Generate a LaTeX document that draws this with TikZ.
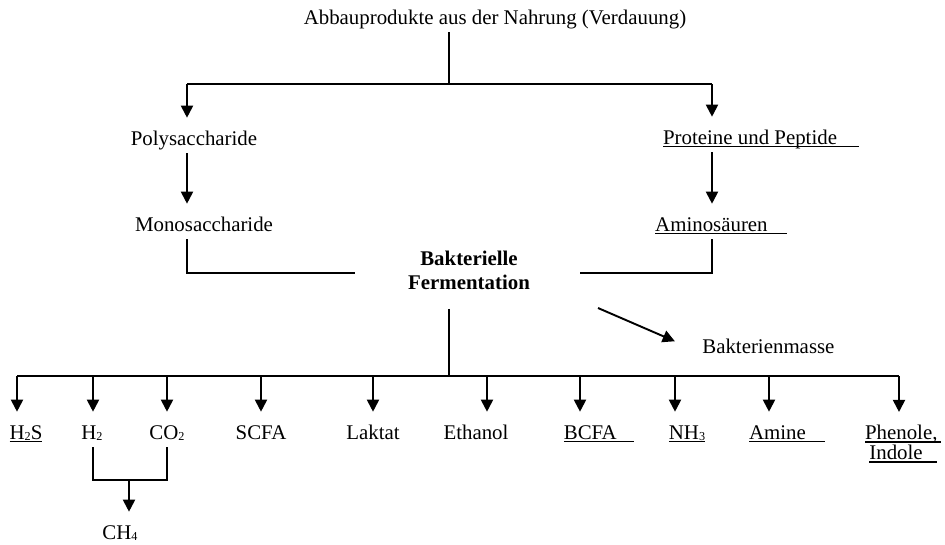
\documentclass[tikz,border=0pt]{standalone}
\usepackage{fontspec}
\setmainfont{Liberation Serif}
\usetikzlibrary{arrows.meta, positioning}

% underlined text with a little trailing space
\newcommand{\ulbox}[2]{\setbox0=\hbox{#1\hspace{#2}}\rlap{\rule[-1.7pt]{\wd0}{0.75pt}}\box0}
\newcommand{\lowidx}[1]{\raisebox{-0.8pt}{\fontsize{7}{8}\selectfont #1}}

\begin{document}
\begin{tikzpicture}[
	x=0.575pt, y=-0.575pt,
	font=\fontsize{12}{13.8}\selectfont,
	lbl/.style={anchor=base, inner sep=0pt, text height=8pt, text depth=2.4pt},
	multi/.style={align=center, inner sep=0pt},
	conn/.style={line width=1.1pt},
	arr/.style={line width=1.1pt, -{Triangle[width=7pt,length=7pt]}, shorten >=7.5pt}
	]
	\useasboundingbox (0,0) rectangle (945,544);
	
	% -------------------------------
	% NAHRUNG
	% -------------------------------
	\node[lbl] (title) at (495,24) {Abbauprodukte aus der Nahrung (Verdauung)};
	\node[lbl] (poly)  at (194,145) {Polysaccharide};
	\node[lbl] (mono)  at (204,231) {Monosaccharide};
	\node[lbl] (prot)  at (761,144) {\ulbox{Proteine und Peptide}{12.6pt}};
	\node[lbl] (amino) at (721,231) {\ulbox{Aminosäuren}{11pt}};
	
	% -------------------------------
	% FERMENTATION
	% -------------------------------
	\node[multi, font=\fontsize{12}{13.8}\selectfont\bfseries] (bakt) at (469,270) {Bakterielle\\Fermentation};
	\node[lbl, anchor=base west] (masse) at (702,353) {Bakterienmasse};
	
	% -------------------------------
	% PRODUKTE
	% -------------------------------
	\node[lbl] (h2s)     at (26,439)  {\ulbox{H\lowidx{2}S}{0pt}};
	\node[lbl] (h2)      at (92,439)  {H\lowidx{2}};
	\node[lbl] (co2)     at (167,439) {CO\lowidx{2}};
	\node[lbl] (scfa)    at (261,439) {SCFA};
	\node[lbl] (laktat)  at (373,439) {Laktat};
	\node[lbl] (ethanol) at (476,439) {Ethanol};
	\node[lbl] (bcfa)    at (599,439) {\ulbox{BCFA}{10pt}};
	\node[lbl] (nh3)     at (687,439) {\ulbox{NH\lowidx{3}}{0pt}};
	\node[lbl] (amine)   at (787,439) {\ulbox{Amine}{11pt}};
	\node[multi, anchor=north, font=\fontsize{12}{11.5}\selectfont] (phen) at (903,425)
		{\ulbox{Phenole,}{2pt}\\\ulbox{Indole}{8pt}};
	\node[lbl] (ch4)     at (120,539) {CH\lowidx{4}};
	
	% -------------------------------
	% KNOTEN
	% -------------------------------
	\coordinate (jtop) at (449,84);
	\coordinate (lt)   at (187,84);
	\coordinate (rt)   at (712,84);
	\coordinate (bl)   at (355,273);
	\coordinate (br)   at (580,273);
	\coordinate (jbot) at (449,376);
	\coordinate (dst)  at (598,308);
	\coordinate (jch)  at (129,480);
	\coordinate (k1)  at (17,376);
	\coordinate (k2)  at (93,376);
	\coordinate (k3)  at (167,376);
	\coordinate (k4)  at (261,376);
	\coordinate (k5)  at (373,376);
	\coordinate (k6)  at (487,376);
	\coordinate (k7)  at (580,376);
	\coordinate (k8)  at (675,376);
	\coordinate (k9)  at (769,376);
	\coordinate (k10) at (899,376);
	
	% -------------------------------
	% PFEILE
	% -------------------------------
	\draw[conn, shorten <=2pt] (title.south -| jtop) -- (jtop);
	\draw[conn] (lt) -- (rt);
	\draw[arr] (lt) -- (lt |- poly.north);
	\draw[arr] (rt) -- (rt |- prot.north);
	\draw[arr, shorten <=2pt] (lt |- poly.south) -- (lt |- mono.north);
	\draw[arr, shorten <=2pt] (rt |- prot.south) -- (rt |- amino.north);
	\draw[conn, shorten <=2pt] (lt |- mono.south) |- (bl);
	\draw[conn, shorten <=2pt] (rt |- amino.south) |- (br);
	
	\draw[conn, shorten <=11pt] (bakt.south -| jbot) -- (jbot);
	\draw[arr, shorten >=17pt] (dst) -- (masse.base west);
	\draw[conn] (k1) -- (k10);
	
	\draw[arr] (k1)  -- (k1 |- h2s.north);
	\draw[arr] (k2)  -- (k2 |- h2.north);
	\draw[arr] (k3)  -- (k3 |- co2.north);
	\draw[arr] (k4)  -- (k4 |- scfa.north);
	\draw[arr] (k5)  -- (k5 |- laktat.north);
	\draw[arr] (k6)  -- (k6 |- ethanol.north);
	\draw[arr] (k7)  -- (k7 |- bcfa.north);
	\draw[arr] (k8)  -- (k8 |- nh3.north);
	\draw[arr] (k9)  -- (k9 |- amine.north);
	\draw[arr] (k10) -- (k10 |- phen.north);
	
	\draw[conn, shorten <=2pt, shorten >=2pt] (k2 |- h2.south) |- (jch) -| (co2.south);
	\draw[arr] (jch) -- (jch |- ch4.north);
	
\end{tikzpicture}
\end{document}
